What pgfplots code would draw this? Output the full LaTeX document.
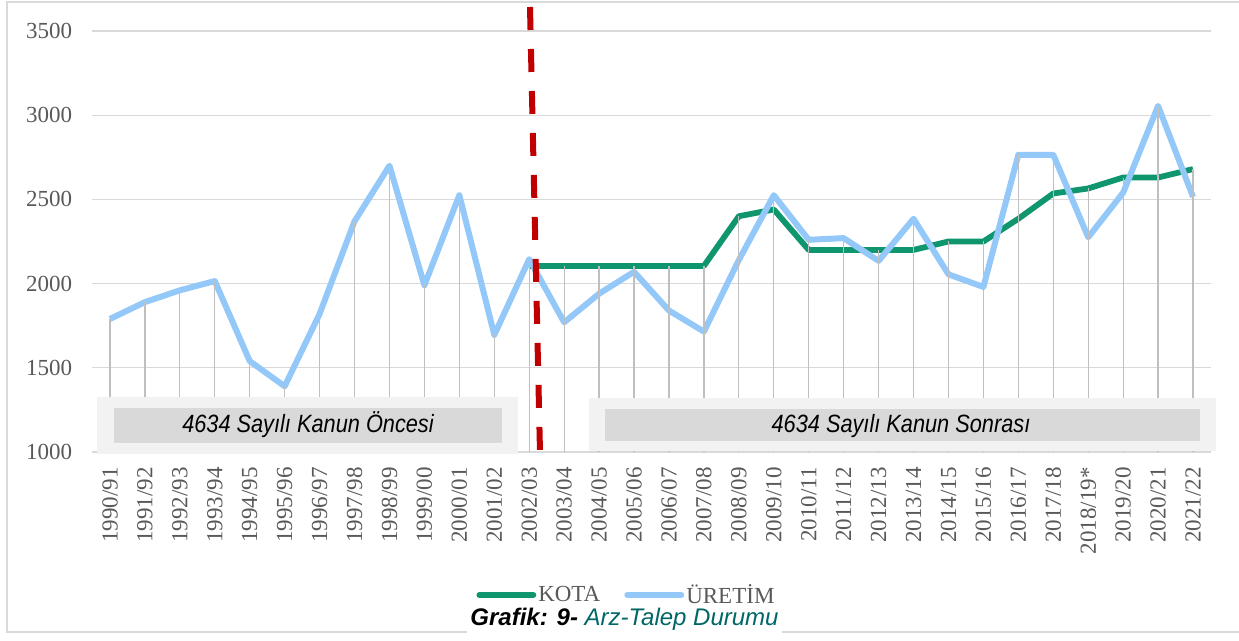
\documentclass[border=0pt]{standalone}
\usepackage{fontspec}
\setmainfont{Liberation Serif}
\newfontfamily\boxfont{Liberation Sans}[FakeStretch=0.87]
\newfontfamily\capfont{Liberation Sans}
\usepackage{pgfplots}
\usepackage{pgfplotstable}
\pgfplotsset{compat=1.18}
\definecolor{kota}{RGB}{16,150,110}
\definecolor{uret}{RGB}{148,200,248}
\definecolor{gridc}{RGB}{217,217,217}
\definecolor{dropc}{RGB}{191,191,191}
\definecolor{txt}{RGB}{89,89,89}
\definecolor{redl}{RGB}{192,0,0}
\definecolor{teal2}{RGB}{0,102,102}
\definecolor{boxo}{RGB}{242,242,242}
\definecolor{boxi}{RGB}{217,217,217}
\newcommand\pxc[2]{({((#1)-92.5)*0.5pt},{(452-(#2))*0.5pt})}

\pgfplotstableread{
x y
0 1790
1 1890
2 1960
3 2015
4 1540
5 1390
6 1820
7 2370
8 2700
9 1990
10 2525
11 1695
12 2145
13 1770
14 1940
15 2070
16 1840
17 1715
18 2140
19 2525
20 2260
21 2270
22 2135
23 2385
24 2055
25 1980
26 2765
27 2765
28 2275
29 2540
30 3055
31 2515
}\uretim

\pgfplotstableread{
x y
12 2105
13 2105
14 2105
15 2105
16 2105
17 2105
18 2400
19 2440
20 2200
21 2200
22 2200
23 2200
24 2250
25 2250
26 2385
27 2535
28 2565
29 2630
30 2630
31 2680
}\kota

\begin{document}
\begin{tikzpicture}
\begin{axis}[
  at={(0,0)}, anchor=south west, scale only axis,
  width=559pt, height=210.5pt,
  xmin=-0.5, xmax=31.5, ymin=1000, ymax=3500,
  ytick={1000,1500,2000,2500,3000,3500},
  yticklabels={1000,1500,2000,2500,3000,3500},
  xtick={0,...,31},
  xticklabels={1990/91,1991/92,1992/93,1993/94,1994/95,1995/96,1996/97,1997/98,1998/99,1999/00,2000/01,2001/02,2002/03,2003/04,2004/05,2005/06,2006/07,2007/08,2008/09,2009/10,2010/11,2011/12,2012/13,2013/14,2014/15,2015/16,2016/17,2017/18,2018/19*,2019/20,2020/21,2021/22},
  axis line style={draw=none},
  major tick length=0pt,
  ymajorgrids, grid style={gridc, line width=0.65pt},
  yticklabel style={font=\fontsize{11.5}{13}\selectfont, text=txt, inner sep=0pt, xshift=-10pt},
  xticklabel style={font=\fontsize{11.5}{13}\selectfont, text=txt, rotate=90, anchor=east, inner xsep=7.5pt, inner ysep=0pt},
  legend style={at={(0.4776,-0.3397)}, anchor=center, draw=none, fill=none,
    font=\fontsize{11.5}{13}\selectfont, text=txt, nodes={inner sep=1pt},
    /tikz/every even column/.append style={column sep=11pt}},
  legend columns=2,
  legend image code/.code={\draw[#1, line cap=round] (0pt,0pt) -- (27pt,0pt);},
]
\addplot[kota, line width=2.9pt, line join=round] table[x=x,y=y] {\kota};
\addlegendentry{KOTA}
\addplot[uret, line width=3pt, line join=round] table[x=x,y=y] {\uretim};
\addlegendentry{ÜRETİM}
\addplot[ycomb, dropc, line width=0.65pt, forget plot] table[x=x,y=y] {\uretim};
\addplot[ycomb, dropc, line width=0.65pt, forget plot] table[x=x,y=y] {\kota};
\end{axis}
% boxes
\fill[boxo] \pxc{97.5}{397.5} rectangle \pxc{518}{454.5};
\fill[boxi] \pxc{114}{408} rectangle \pxc{502}{443.5};
\node[anchor=base, inner sep=0pt] at \pxc{308}{433} {\boxfont\fontsize{12.5}{14}\selectfont\itshape 4634 Sayılı Kanun Öncesi};
\fill[boxo] \pxc{589}{398.5} rectangle \pxc{1216}{451};
\fill[boxi] \pxc{605}{409} rectangle \pxc{1200}{441};
\node[anchor=base, inner sep=0pt] at \pxc{901}{433} {\boxfont\fontsize{12.5}{14}\selectfont\itshape 4634 Sayılı Kanun Sonrası};
% red dashed line
\draw[redl, line width=3pt, dash pattern=on 11.5pt off 9.5pt] \pxc{530}{7} -- \pxc{540}{452};
% frame
\draw[gridc, line width=0.6pt] \pxc{1245}{2} -- \pxc{7}{2} -- \pxc{7}{632} -- \pxc{1245}{632};
% caption
\node[fill=white, inner sep=1.5pt, anchor=base] at \pxc{624.5}{626} {\capfont\fontsize{12}{14}\selectfont{\bfseries\itshape Grafik: 9-} {\itshape\color{teal2}Arz-Talep Durumu}};
\pgfresetboundingbox
\path[use as bounding box] \pxc{0}{0} rectangle \pxc{1239}{641};
\end{tikzpicture}
\end{document}
